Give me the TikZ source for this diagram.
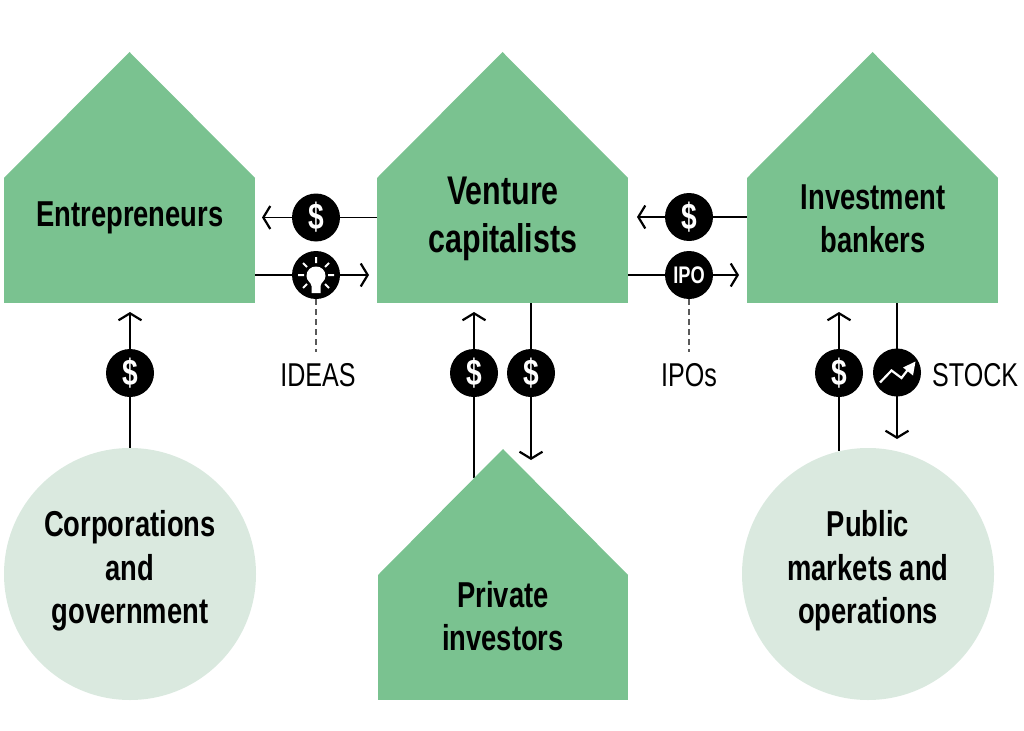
\documentclass[tikz,border=0pt]{standalone}
\usepackage{fontspec}
\setmainfont[FakeStretch=0.76]{Liberation Sans}
\usetikzlibrary{arrows.meta,backgrounds}
\definecolor{housegreen}{HTML}{7AC290}
\definecolor{palegreen}{HTML}{DAE9DF}
\tikzset{
  x=1pt,y=-1pt,
  body/.style={fill=housegreen,minimum width=251pt,minimum height=125pt,inner sep=0pt,outer sep=0pt},
  roof/.style={fill=housegreen,draw=none},
  disc/.style={circle,fill=palegreen,minimum size=252pt,inner sep=0pt,outer sep=0pt},
  lbl/.style={align=center,font=\fontsize{36}{43.5}\selectfont\bfseries,text=black,inner sep=0pt},
  biglbl/.style={align=center,font=\fontsize{40}{48}\selectfont\bfseries,text=black,inner sep=0pt},
  badge/.style={circle,fill=black,minimum size=48pt,inner sep=0pt,outer sep=0pt,text=white,font=\fontsize{37}{37}\selectfont\bfseries},
  ipobadge/.style={badge,font=\fontsize{24}{24}\selectfont\bfseries},
  note/.style={font=\fontsize{33}{33}\selectfont,text=black,inner sep=0pt},
  flow/.style={line width=1.7pt,draw=black,-{Straight Barb[length=7pt,width=23pt,line width=2.2pt]}},
  plain/.style={line width=1.7pt,draw=black},
  leader/.style={line width=1.3pt,draw=black!65,dash pattern=on 5.5pt off 4.5pt},
  glyph/.style={draw=white,line width=2.4pt,line cap=round}
}
\begin{document}
\begin{tikzpicture}
\useasboundingbox (0,0) rectangle (1024,730);
% houses
\node[body] (ent) at (129.5,240.5) {};
\fill[roof] (ent.north west) -- (129.5,52) -- (ent.north east) -- cycle;
\node[body] (vc) at (502.5,240.5) {};
\fill[roof] (vc.north west) -- (502.5,52) -- (vc.north east) -- cycle;
\node[body] (ib) at (872.5,240.5) {};
\fill[roof] (ib.north west) -- (872.5,52) -- (ib.north east) -- cycle;
\node[body,minimum width=250pt] (pi) at (503,637.5) {};
\fill[roof] (pi.north west) -- (503,449) -- (pi.north east) -- cycle;
% circles
\node[disc] (corp) at (130,574) {};
\node[disc] (pub) at (868,574) {};
% labels
\node[lbl] (entl) at (130,218) {Entrepreneurs};
\node[biglbl] (vcl) at (503,219) {Venture\\capitalists};
\node[lbl] (ibl) at (873,219) {Investment\\bankers};
\node[lbl] (pil) at (503,616) {Private\\investors};
\node[lbl] (corpl) at (130,571) {Corporations\\and\\government};
\node[lbl] (publ) at (868,571) {Public\\markets and\\operations};
% badges
\node[badge] (d1) at (316,217.5) {\$};
\node[badge] (idea) at (316,275) {};
\node[badge] (d2) at (689,217) {\$};
\node[ipobadge] (ipo) at (689,275) {IPO};
\node[badge] (d3) at (130,373) {\$};
\node[badge] (d4) at (474,373) {\$};
\node[badge] (d5) at (531,373) {\$};
\node[badge] (d6) at (839,373) {\$};
\node[badge] (stock) at (897,372.5) {};
% lamp
\begin{scope}[shift={(idea.center)}]
  \fill[white] (-4.5,18) -- (-4.5,11) .. controls (-5,7) and (-9.5,6) .. (-9.5,1)
     .. controls (-9.5,-5) and (-5,-8.5) .. (0,-8.5)
     .. controls (5,-8.5) and (9.5,-5) .. (9.5,1)
     .. controls (9.5,6) and (5,7) .. (4.5,11) -- (4.5,18) -- cycle;
  \draw[white,line width=2pt] (0,-18) -- (0,-12) (-18,0) -- (-12,0) (18,0) -- (12,0)
     (-13,-12) -- (-9,-8) (13,-12) -- (9,-8) (-13,13) -- (-9,9) (13,13) -- (9,9);
\end{scope}
% stock
\begin{scope}[shift={(stock.center)}]
  \draw[white,line width=2.2pt,line join=miter] (-17,10) -- (-5.5,-2) -- (4.5,5.5) -- (14,-7);
  \fill[white] (18.5,-11) -- (16,3) -- (6,-5) -- cycle;
\end{scope}
% text notes
\node[note] (ideas) at (318,375) {IDEAS};
\node[note] (ipos) at (689,375) {IPOs};
\node[note,anchor=west] (stocktxt) at (932,375) {STOCK};
% free ends
\coordinate (a1) at (262,217.5);
\coordinate (a2) at (369,275);
\coordinate (a3) at (637,217);
\coordinate (a4) at (739,275);
\coordinate (a5) at (130,312);
\coordinate (a6) at (474,312);
\coordinate (a7) at (531,460);
\coordinate (a8) at (839,312);
\coordinate (a9) at (897,439);
\coordinate (s6) at (474,478);
\coordinate (s8) at (839,451);
\coordinate (l1) at (316,352);
\coordinate (l2) at (689,352);
\begin{scope}[on background layer]
  \draw[flow] (vc.west |- d1) -- (a1);
  \draw[flow] (ent.east |- idea) -- (a2);
  \draw[flow] (ib.west |- d2) -- (a3);
  \draw[flow] (vc.east |- ipo) -- (a4);
  \draw[flow] (corp.north) -- (a5);
  \draw[flow] (s6) -- (a6);
  \draw[flow] (vc.south -| d5) -- (a7);
  \draw[flow] (s8) -- (a8);
  \draw[flow] (ib.south -| stock) -- (a9);
  \draw[leader] (idea.south) -- (l1);
  \draw[leader] (ipo.south) -- (l2);
\end{scope}
\end{tikzpicture}
\end{document}
